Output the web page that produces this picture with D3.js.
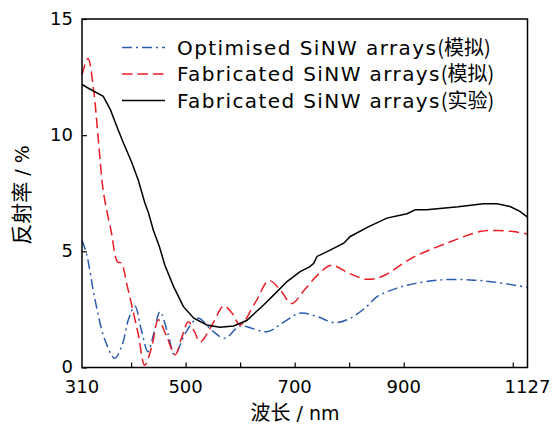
<!DOCTYPE html>
<html>
<head>
<meta charset="utf-8">
<script src="https://cdn.jsdelivr.net/npm/d3@7"></script>
<style>
  body { margin: 0; background: #fff; }
</style>
</head>
<body>
<svg></svg>
<script>
// wavelength (nm) / reflectance (%)
const optWave = [310, 318, 334, 352, 370, 384, 395, 407, 419, 431, 442, 453, 467, 480, 500, 523, 548, 572, 600, 649, 680, 710, 740, 774, 802, 832, 851, 887, 918, 967, 1022, 1071, 1127];
const optR    = [5.47, 4.93, 2.9, 1.19, 0.4, 1.0, 2.05, 2.65, 1.6, 0.68, 1.5, 2.4, 1.5, 0.55, 1.5, 2.12, 1.6, 1.26, 1.78, 1.54, 1.95, 2.34, 2.2, 1.93, 2.12, 2.62, 3.05, 3.41, 3.6, 3.77, 3.77, 3.66, 3.45];

const fabWave = [310, 321, 331, 340, 349, 364, 375, 382, 392, 401, 413, 425, 438, 450, 465, 481, 493, 505, 516, 527, 550, 570, 585, 600, 628, 653, 675, 694, 720, 745, 767, 800, 832, 860, 918, 979, 1040, 1071, 1100, 1127];
const fabR    = [12.6, 13.3, 12.0, 9.8, 7.6, 5.8, 4.55, 4.5, 3.6, 2.7, 1.45, 0.1, 0.9, 2.05, 1.35, 0.55, 1.3, 1.97, 1.55, 1.1, 1.9, 2.65, 2.35, 1.83, 2.8, 3.74, 3.3, 2.75, 3.4, 4.05, 4.4, 4.05, 3.8, 3.92, 4.75, 5.35, 5.85, 5.9, 5.85, 5.75];

const expWave = [310, 321, 349, 362, 376, 386, 400, 413, 425, 432, 441, 452, 462, 478, 496, 515, 539, 563, 588, 612, 643, 665, 686, 710, 728, 735, 741, 765, 790, 802, 835, 869, 906, 921, 942, 1000, 1046, 1071, 1095, 1113, 1127];
const expR    = [12.18, 12.03, 11.67, 11.1, 10.24, 9.66, 8.9, 8.08, 7.1, 6.65, 5.9, 5.2, 4.4, 3.48, 2.62, 2.12, 1.83, 1.73, 1.79, 2.02, 2.69, 3.2, 3.7, 4.13, 4.34, 4.49, 4.78, 5.05, 5.35, 5.64, 6.05, 6.43, 6.62, 6.79, 6.79, 6.92, 7.05, 7.05, 6.93, 6.72, 6.47];

const xTicks = [400, 500, 600, 700, 800, 900, 1100];
const xLabels = [310, 500, 700, 900, 1127];
const yTicks = [0, 5, 10, 15];

const legendNames = ["Optimised SiNW arrays", "Fabricated SiNW arrays", "Fabricated SiNW arrays"];
const legendTags = ["(模拟)", "(模拟)", "(实验)"];

const latin = "'DejaVu Sans', sans-serif";
const cjk = "'Noto Sans CJK SC', sans-serif";

const width = 554, height = 425;
const marginLeft = 82, marginRight = 26.5, marginTop = 19, marginBottom = 57.5;

const svg = d3.select("svg")
    .attr("width", width)
    .attr("height", height)
    .attr("viewBox", [0, 0, width, height])
    .attr("font-family", latin);

const x = d3.scaleLinear()
    .domain([310, 1127])
    .range([marginLeft, width - marginRight]);

const y = d3.scaleLinear()
    .domain([0, 15])
    .range([height - marginBottom, marginTop]);

const series = [
    {wave: optWave, r: optR, color: "#2a5cb0", dash: "10,4,2,4", curve: d3.curveCatmullRom},
    {wave: fabWave, r: fabR, color: "#ec1c24", dash: "10.5,5", curve: d3.curveCatmullRom},
    {wave: expWave, r: expR, color: "#000", dash: null, curve: d3.curveLinear}
];

const plot = svg.append("g");
series.forEach(function (s) {
    const pts = s.wave.map((w, i) => [w, s.r[i]]);
    plot.append("path")
        .datum(pts)
        .attr("fill", "none")
        .attr("stroke", s.color)
        .attr("stroke-width", 1.5)
        .attr("stroke-dasharray", s.dash)
        .attr("d", d3.line().x(d => x(d[0])).y(d => y(d[1])).curve(s.curve));
});

// frame
svg.append("rect")
    .attr("x", x(310)).attr("y", y(15))
    .attr("width", x(1127) - x(310)).attr("height", y(0) - y(15))
    .attr("fill", "none").attr("stroke", "#000").attr("stroke-width", 1.5);

// ticks pointing inward
svg.append("g")
    .attr("transform", `translate(0,${y(0)})`)
    .call(d3.axisBottom(x).tickValues(xTicks).tickSizeInner(-5).tickSizeOuter(0).tickFormat(""))
    .call(g => g.select(".domain").remove());

svg.append("g")
    .attr("transform", `translate(${x(310)},0)`)
    .call(d3.axisLeft(y).tickValues(yTicks).tickSizeInner(-5).tickSizeOuter(0).tickFormat(""))
    .call(g => g.select(".domain").remove());

svg.selectAll(".tick line").attr("stroke-width", 1.2);

svg.append("g").selectAll("text")
    .data(xLabels)
    .join("text")
    .attr("x", d => x(d))
    .attr("y", y(0) + 25)
    .attr("text-anchor", "middle")
    .attr("font-size", 18)
    .text(d => d);

svg.append("g").selectAll("text")
    .data(yTicks)
    .join("text")
    .attr("x", x(310) - 9)
    .attr("y", d => y(d) + 5.5)
    .attr("text-anchor", "end")
    .attr("font-size", 18)
    .text(d => d);

// axis titles
const xt = svg.append("text")
    .attr("x", 295).attr("y", 420)
    .attr("text-anchor", "middle")
    .attr("font-size", 20);
xt.append("tspan").attr("font-family", cjk).text("波长");
xt.append("tspan").attr("font-size", 19).text(" / nm");

const yt = svg.append("text")
    .attr("transform", "translate(29,195) rotate(-90)")
    .attr("text-anchor", "middle")
    .attr("font-size", 21);
yt.append("tspan").attr("font-family", cjk).text("反射率");
yt.append("tspan").attr("font-size", 19).text(" / %");

// legend
const legend = svg.append("g");
series.forEach(function (s, i) {
    const ly = 47.5 + i * 26.5;
    legend.append("line")
        .attr("x1", 122).attr("x2", 165)
        .attr("y1", ly).attr("y2", ly)
        .attr("stroke", s.color)
        .attr("stroke-width", 1.5)
        .attr("stroke-dasharray", s.dash);
    const t = legend.append("text")
        .attr("x", 177).attr("y", ly + 7)
        .attr("font-size", 20);
    t.append("tspan").attr("letter-spacing", 1.4).text(legendNames[i]);
    t.append("tspan").attr("font-family", cjk).attr("font-size", 20).text(legendTags[i]);
});
</script>
</body>
</html>
